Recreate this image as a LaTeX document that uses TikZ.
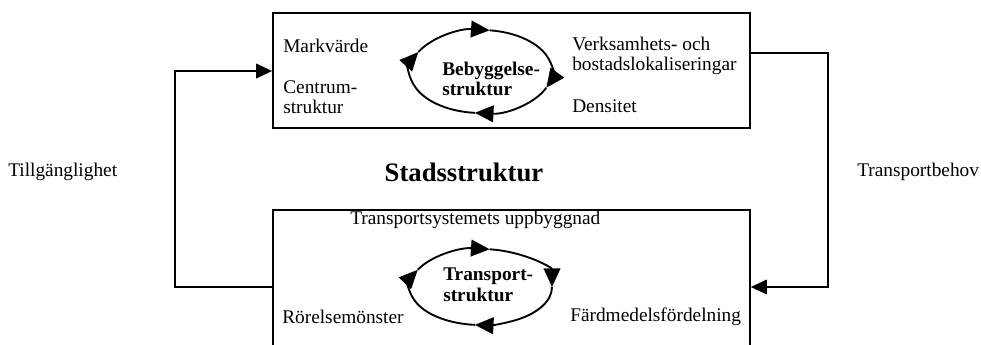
\documentclass[tikz,border=0pt]{standalone}
\usepackage{fontspec}
\setmainfont{Liberation Serif}
\usetikzlibrary{arrows.meta}
\tikzset{
	ruta/.style={draw, line width=1.3pt, inner sep=0pt},
	etikett/.style={inner sep=0pt, anchor=west, align=left, font=\fontsize{14.5}{15}\selectfont},
	fet/.style={etikett, font=\fontsize{14.5}{15.5}\selectfont\bfseries},
	pil/.style={line width=1.1pt, -{Triangle[length=12pt,width=11pt]}},
	kretspil/.style={line width=1.4pt, -{Triangle[length=14pt,width=12.5pt]}}
}
% ellipsbage med pil: (mitt)(start:slut:rx:ry)
\def\kretsbage(#1)(#2:#3:#4:#5){\draw[kretspil] (#1) ++({#4*cos(#2)},{#5*sin(#2)}) arc[start angle=#2, end angle=#3, x radius=#4, y radius=#5];}

\begin{document}
\begin{tikzpicture}[x=0.75pt, y=-0.75pt]
		%%%%% START %%%%%
		\useasboundingbox (0,0) rectangle (981,344);
		
		% rutorna
		\node[ruta, minimum width=357.75pt, minimum height=86.25pt] (bebox) at (511.5,70.5) {};
		\node[ruta, minimum width=357.75pt, minimum height=112.5pt] (tsbox) at (511.5,285) {};
		
		% bebyggelse
		\node[etikett] (markv) at (283,46) {Markvärde};
		\node[etikett] (centrum) at (283,97) {Centrum-\\struktur};
		\node[etikett] (verks) at (572,56) {Verksamhets- och\\bostadslokaliseringar};
		\node[etikett] (dens) at (572,106) {Densitet};
		\coordinate (becentre) at (481,71.5);
		\kretsbage(becentre)(277:383:71:41.5);
		\kretsbage(becentre)(23:95:71:41.5);
		\kretsbage(becentre)(95:208:71:41.5);
		\kretsbage(becentre)(208:277:71:41.5);
		\node[fet] (bebygg) at (442,79) {Bebyggelse-\\struktur};
		
		% mitten
		\node[inner sep=0pt, font=\fontsize{20}{24}\selectfont\bfseries] (stad) at (464,172) {Stadsstruktur};
		\node[etikett] (tillg) at (8,172) {Tillgänglighet};
		\node[etikett] (tbehov) at (857,172) {Transportbehov};
		
		% transport
		\node[etikett, anchor=base west] (tsys) at (350,224) {Transportsystemets uppbyggnad};
		\coordinate (tscentre) at (481,287);
		\kretsbage(tscentre)(277:360:71:38);
		\kretsbage(tscentre)(0:95:71:38);
		\kretsbage(tscentre)(95:207:71:38);
		\kretsbage(tscentre)(207:277:71:38);
		\node[fet] (tstrukt) at (443,285) {Transport-\\struktur};
		\node[etikett] (rorelse) at (282,317) {Rörelsemönster};
		\node[etikett] (fardm) at (570,317) {Färdmedelsfördelning};
		
		% återkopplingar
		\coordinate (vnere) at (175,287);
		\coordinate (vuppe) at (175,71);
		\draw[pil] (vnere -| tsbox.west) -- (vnere) -- (vuppe) -- (vuppe -| bebox.west);
		\coordinate (huppe) at (828,53);
		\coordinate (hnere) at (828,287);
		\draw[pil] (huppe -| bebox.east) -- (huppe) -- (hnere) -- (hnere -| tsbox.east);
		
		%%%%% END %%%%%
\end{tikzpicture}
\end{document}
